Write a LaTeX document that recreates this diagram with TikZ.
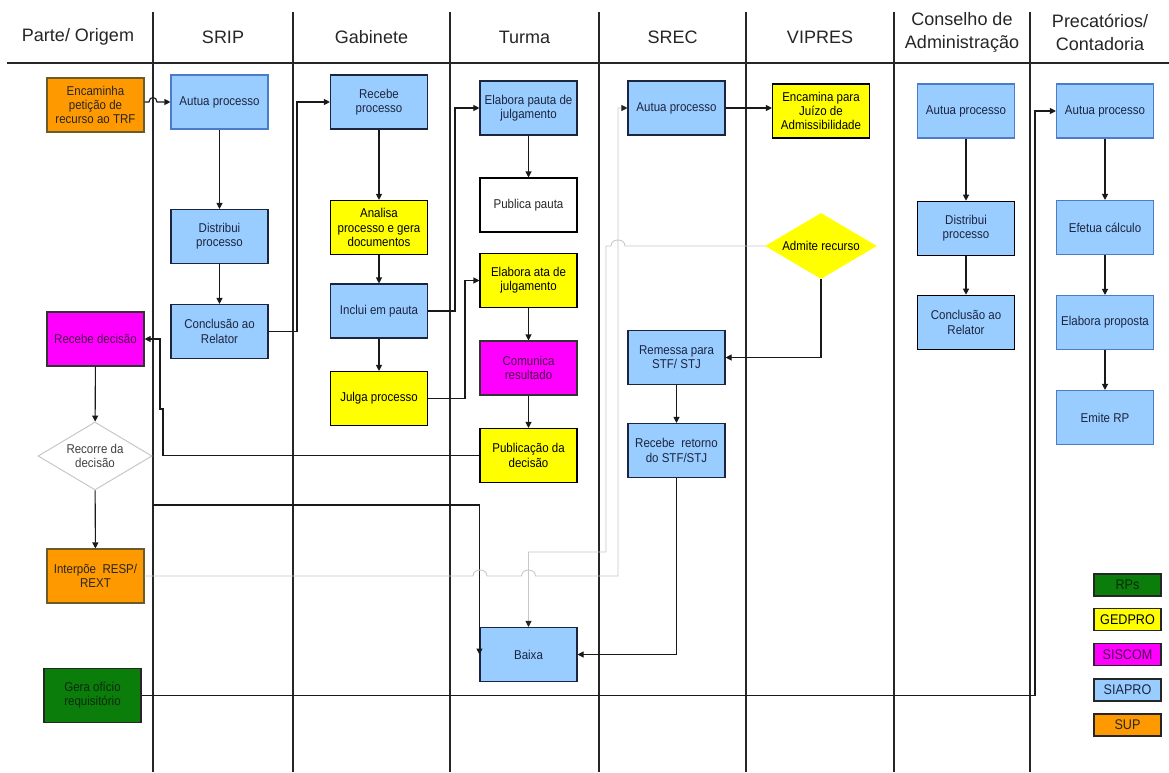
\documentclass[tikz,border=0pt]{standalone}
\usepackage{fontspec}
\setmainfont{Liberation Sans}
\newfontfamily\narrowsans[FakeStretch=0.9]{Liberation Sans}
\usetikzlibrary{arrows.meta,shapes.geometric,calc}

% system colours
\definecolor{sup}{HTML}{FF9900}
\definecolor{siapro}{HTML}{99CCFF}
\definecolor{gedpro}{HTML}{FFFF00}
\definecolor{siscom}{HTML}{FF00FF}
\definecolor{rps}{HTML}{0A7D0A}
\definecolor{navy}{HTML}{1C2540}
\definecolor{bluerim}{HTML}{4A7CC9}
\definecolor{supedge}{HTML}{6B5A2A}
\definecolor{paleline}{HTML}{C8C8C8}
\definecolor{purpletext}{HTML}{4A0A4A}
\definecolor{greentext}{HTML}{0B2A0B}

\begin{document}
\begin{tikzpicture}[x=1pt,y=-1pt,
  box/.style={draw=navy, line width=1.1pt, minimum width=97pt, minimum height=54pt,
    inner sep=1pt, align=center, font=\narrowsans\fontsize{12.8}{14.2}\selectfont, text=navy},
  siaprobox/.style={box, fill=siapro},
  siaprorim/.style={box, fill=siapro, draw=bluerim},
  gedprobox/.style={box, fill=gedpro, draw=black, text=black},
  siscombox/.style={box, fill=siscom, draw=black!80, text=purpletext},
  supbox/.style={box, fill=sup, draw=supedge, text=black!85},
  rpsbox/.style={box, fill=rps, draw=black!85, text=greentext},
  plainbox/.style={box, fill=white, draw=black, text=black!85},
  decision/.style={diamond, aspect=1.7, inner sep=0pt, align=center,
    font=\narrowsans\fontsize{12.8}{14.2}\selectfont, line width=1pt},
  head/.style={font=\fontsize{18}{23}\selectfont, align=center, text=black!85},
  lane/.style={line width=1.1pt, draw=black!85},
  conn/.style={line width=1.1pt, draw=black!90, -{Triangle[length=6pt,width=6pt]}},
  paleconn/.style={line width=0.9pt, draw=paleline, -{Triangle[length=6pt,width=6pt,color=black!85]}},
  legendbox/.style={draw=black!85, line width=1.1pt, minimum width=67pt, minimum height=22pt,
    inner sep=0pt, font=\narrowsans\fontsize{14}{15}\selectfont}
]
\useasboundingbox (0,0) rectangle (1169,772);
\fill[white] (0,0) rectangle (1169,772);

% swimlane grid
\draw[lane] (7,63) -- (1169,63);
\foreach \lx in {153,293,450,599,746,894,1030}
  \draw[lane] (\lx,12) -- (\lx,772);

% lane headings
\node[head] (hParte)  at (78,37)    {Parte/ Origem};
\node[head] (hSRIP)   at (223,37)   {SRIP};
\node[head] (hGab)    at (371.5,37) {Gabinete};
\node[head] (hTurma)  at (524.5,37) {Turma};
\node[head] (hSREC)   at (672.5,37) {SREC};
\node[head] (hVIP)    at (820,37)   {VIPRES};
\node[head] (hCons)   at (962,32)   {Conselho de\\Administração};
\node[head] (hPrec)   at (1100,32)  {Precatórios/\\Contadoria};

% Parte / Origem
\node[supbox]  (enc)    at (95.5,105)  {Encaminha\\petição de\\recurso ao TRF};
\node[siscombox] (recdec) at (95.5,339) {Recebe decisão};
\node[decision, draw=paleline, fill=white, text=black!75,
      minimum width=114pt, minimum height=68pt] (recorre) at (95,456) {Recorre da\\decisão};
\node[supbox]  (interp) at (95.5,576)  {Interpõe \ RESP/\\REXT};
\node[rpsbox]  (gera)   at (92.5,695.5) {Gera ofício\\requisitório};

% SRIP
\node[siaprorim] (autua1) at (219.5,102)   {Autua processo};
\node[siaprobox] (dist1)  at (219.5,236.5) {Distribui\\processo};
\node[siaprobox] (concl1) at (219.5,331.5) {Conclusão ao\\Relator};

% Gabinete
\node[siaprobox] (receb)   at (379,102)   {Recebe\\processo};
\node[gedprobox] (analisa) at (379,227.5) {Analisa\\processo e gera\\documentos};
\node[siaprobox] (inclui)  at (379,311)   {Inclui em pauta};
\node[gedprobox] (julga)   at (379,398.5) {Julga processo};

% Turma
\node[siaprobox] (elabpauta)  at (528.5,108)   {Elabora pauta de\\julgamento};
\node[plainbox]  (publica)    at (528.5,205)   {Publica pauta};
\node[gedprobox] (elabata)    at (528.5,280.5) {Elabora ata de\\julgamento};
\node[siscombox] (comunica)   at (528.5,368)   {Comunica\\resultado};
\node[gedprobox] (publicacao) at (528.5,455.5) {Publicação da\\decisão};
\node[siaprobox] (baixa)      at (528.5,654.5) {Baixa};

% SREC
\node[siaprobox] (autua2)  at (676.5,108)   {Autua processo};
\node[siaprobox] (remessa) at (676.5,357.5) {Remessa para\\STF/ STJ};
\node[siaprobox] (retorno) at (676.5,450.5) {Recebe \ retorno\\do STF/STJ};

% VIPRES
\node[gedprobox] (encamina) at (821,111) {Encamina para\\Juízo de\\Admissibilidade};
\node[decision, draw=gedpro, fill=gedpro, text=black,
      minimum width=110pt, minimum height=65pt] (admite) at (821,246) {Admite recurso};

% Conselho de Administração
\node[siaprorim] (autua3) at (966,111) {Autua processo};
\node[siaprobox, draw=black, line width=1.6pt] (dist3)  at (966,228.5) {Distribui\\processo};
\node[siaprobox, draw=black, line width=1.6pt] (concl3) at (966,322.5) {Conclusão ao\\Relator};

% Precatórios / Contadoria
\node[siaprorim] (autua4)   at (1105,111)   {Autua processo};
\node[siaprorim] (efetua)   at (1105,227.5) {Efetua cálculo};
\node[siaprorim] (elabprop) at (1105,322.5) {Elabora proposta};
\node[siaprorim] (emite)    at (1105,417.5) {Emite RP};

% legend
\node[legendbox, fill=rps, text=greentext]     (lgRPs)    at (1127.5,585)   {RPs};
\node[legendbox, fill=gedpro, text=black]      (lgGED)    at (1127.5,619.5) {GEDPRO};
\node[legendbox, fill=siscom, text=purpletext] (lgSIS)    at (1127.5,654.5) {SISCOM};
\node[legendbox, fill=siapro, text=navy]       (lgSIA)    at (1127.5,690)   {SIAPRO};
\node[legendbox, fill=sup, text=black!85]      (lgSUP)    at (1127.5,725)   {SUP};

% bend columns for routed connectors
\coordinate (xA) at (297,0);
\coordinate (xB) at (455,0);
\coordinate (xC) at (465,0);
\coordinate (xD) at (163,0);
\coordinate (xE) at (160,0);
\coordinate (yStep) at (0,409);
\coordinate (xF) at (1035,0);
\coordinate (recStart) at (153,505);

% flow inside the lanes
\draw[conn] (enc.east |- autua1.west) -- (149,102) .. controls (149,96) and (157,96) .. (157,102) -- (autua1.west);
\draw[conn] (autua1) -- (dist1);
\draw[conn] (dist1) -- (concl1);
\draw[conn] (concl1.east) -- (concl1.east -| xA) |- (receb.west);
\draw[conn] (receb) -- (analisa);
\draw[conn] (analisa) -- (inclui);
\draw[conn] (inclui) -- (julga);
\draw[conn] (inclui.east) -- (inclui.east -| xB) |- (elabpauta.west);
\draw[conn] (julga.east) -- (julga.east -| xC) |- (elabata.west);
\draw[conn] (elabpauta) -- (publica);
\draw[conn] (elabata) -- (comunica);
\draw[conn] (comunica) -- (publicacao);
\draw[conn] (publicacao.west) -- (publicacao.west -| xD) -- (xD |- yStep) -- (xE |- yStep) |- (recdec.east);
\draw[conn] (recdec) -- (recorre);
\draw[conn] (recorre) -- (interp);
\draw[conn] (recStart) -| (baixa.west);
\draw[conn] (autua2.east) -- (autua2.east -| encamina.west);
\draw[conn] (admite.south) |- (remessa.east);
\draw[conn] (remessa) -- (retorno);
\draw[conn] (retorno.south) |- (baixa.east);
\draw[conn] (autua3) -- (dist3);
\draw[conn] (dist3) -- (concl3);
\draw[conn] (gera.east) -- (gera.east -| xF) |- (autua4.west);
\draw[conn] (autua4) -- (efetua);
\draw[conn] (efetua) -- (elabprop);
\draw[conn] (elabprop) -- (emite);

% pale connectors with line hops
\draw[paleconn] (interp.east) -- (473,576) .. controls (473,568) and (487,568) .. (487,576)
  -- (521.5,576) .. controls (521.5,568) and (535.5,568) .. (535.5,576)
  -- (618,576) |- (autua2.west);
\draw[paleconn] (admite.west) -- (625,246) .. controls (625,238) and (611,238) .. (611,246)
  -- (606,246) -- (606,552) -- (528.5,552) -- (baixa.north);
\end{tikzpicture}
\end{document}
